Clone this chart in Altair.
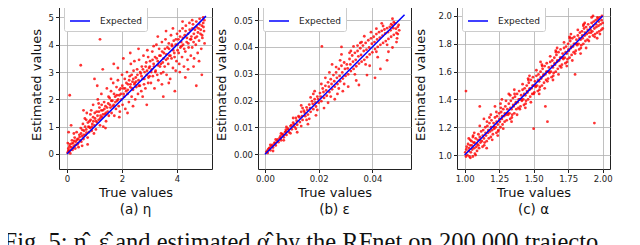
import altair as alt
import pandas as pd

# ---------------- data ----------------
# Panel (a): eta  (true, estimated)
eta_pts = [
    (0.02,0.05),(0.05,0.2),(0.08,0.1),(0.1,0.35),(0.12,0.02),(0.15,0.25),(0.18,0.5),(0.2,0.15),(0.22,0.4),(0.25,0.3),
    (0.28,0.6),(0.3,0.2),(0.32,0.45),(0.35,0.8),(0.38,0.35),(0.4,0.55),(0.42,0.25),(0.45,0.7),(0.48,0.5),(0.5,0.95),
    (0.06,0.8),(0.1,2.15),(0.15,1.05),(0.03,0.4),(0.25,0.75),
    (0.52,0.45),(0.55,0.65),(0.58,1.1),(0.6,0.55),(0.62,0.85),(0.65,1.3),(0.68,0.7),(0.7,0.9),(0.72,1.5),(0.75,0.6),
    (0.78,1.0),(0.8,0.8),(0.82,1.2),(0.85,0.95),(0.88,1.6),(0.9,0.85),(0.92,1.1),(0.95,1.35),(0.98,0.75),(1.0,1.05),
    (0.6,1.6),(0.7,1.25),(0.85,1.45),(0.95,1.8),(0.55,0.3),(0.75,0.35),(0.5,3.25),
    (1.02,1.3),(1.05,0.9),(1.08,1.55),(1.1,1.15),(1.12,2.0),(1.15,1.25),(1.18,1.7),(1.2,1.05),(1.22,1.4),(1.25,2.2),
    (1.28,1.35),(1.3,1.6),(1.32,1.0),(1.35,1.9),(1.38,1.45),(1.4,1.75),(1.42,1.2),(1.45,2.4),(1.48,1.55),(1.5,1.85),
    (1.2,4.2),(1.3,3.1),(1.1,2.5),(1.0,2.75),(1.4,0.95),(1.25,1.6),(1.15,1.85),
    (1.52,1.4),(1.55,2.05),(1.58,1.7),(1.6,2.3),(1.62,1.5),(1.65,1.95),(1.68,2.6),(1.7,1.8),(1.72,1.4),(1.75,2.1),
    (1.78,1.65),(1.8,2.45),(1.82,1.95),(1.85,2.7),(1.88,1.75),(1.9,2.15),(1.92,1.55),(1.95,2.4),(1.98,2.0),(2.0,2.9),
    (1.7,3.3),(1.85,3.15),(1.6,2.75),(1.9,1.35),
    (2.02,1.8),(2.05,2.4),(2.08,2.1),(2.1,2.75),(2.12,1.65),(2.15,2.3),(2.18,3.0),(2.2,2.2),(2.22,2.55),(2.25,1.9),
    (2.28,2.85),(2.3,2.45),(2.32,3.3),(2.35,2.1),(2.38,2.65),(2.4,2.35),(2.42,3.05),(2.45,2.55),(2.48,2.0),(2.5,2.8),
    (2.05,3.5),(2.3,3.7),(2.45,3.4),(2.2,1.5),(2.4,1.75),(2.5,4.6),(2.35,2.9),
    (2.52,2.45),(2.55,3.1),(2.58,2.2),(2.6,2.7),(2.62,3.45),(2.65,2.5),(2.68,2.95),(2.7,2.3),(2.72,3.2),(2.75,2.75),
    (2.78,3.6),(2.8,2.55),(2.82,3.0),(2.85,2.4),(2.88,3.35),(2.9,2.9),(2.92,3.8),(2.95,2.6),(2.98,3.15),(3.0,2.85),
    (2.9,1.8),(2.6,3.85),(2.75,2.1),(2.95,3.55),
    (3.02,3.4),(3.05,2.6),(3.08,3.1),(3.1,3.75),(3.12,2.85),(3.15,3.3),(3.18,2.4),(3.2,3.55),(3.22,3.05),(3.25,4.0),
    (3.28,2.9),(3.3,3.4),(3.32,2.7),(3.35,3.85),(3.38,3.2),(3.4,3.6),(3.42,2.95),(3.45,4.1),(3.48,3.35),(3.5,3.0),
    (3.5,2.1),(3.3,4.3),(3.15,3.95),(3.45,2.55),
    (3.52,3.7),(3.55,3.2),(3.58,4.2),(3.6,3.45),(3.62,2.9),(3.65,3.9),(3.68,3.3),(3.7,4.05),(3.72,3.6),(3.75,2.75),
    (3.78,4.35),(3.8,3.5),(3.82,3.95),(3.85,3.15),(3.88,4.15),(3.9,3.7),(3.92,2.3),(3.95,4.0),(3.98,3.4),(4.0,4.4),
    (3.6,4.5),(3.7,2.6),(3.85,4.6),(3.95,3.05),
    (4.02,3.8),(4.05,4.2),(4.08,3.3),(4.1,4.5),(4.12,3.9),(4.15,4.1),(4.18,3.55),(4.2,4.6),(4.22,4.0),(4.25,3.2),
    (4.28,4.35),(4.3,3.75),(4.32,4.7),(4.35,4.1),(4.38,3.45),(4.4,4.4),(4.42,3.9),(4.45,4.8),(4.48,4.2),(4.5,3.6),
    (4.3,2.8),(4.1,3.0),(4.4,3.1),(4.2,4.85),
    (4.52,4.3),(4.55,3.9),(4.58,4.75),(4.6,4.1),(4.62,3.5),(4.65,4.55),(4.68,4.0),(4.7,4.85),(4.72,4.3),(4.75,3.7),
    (4.78,4.6),(4.8,4.15),(4.82,4.95),(4.85,4.4),(4.88,3.85),(4.9,4.7),(4.92,4.25),(4.95,5.0),(4.98,4.5),(5.0,4.05),
    (4.7,2.5),(4.9,2.9),(4.6,3.2),(4.8,3.4),(4.95,4.8),(4.55,4.9),
    (0.05,0.12),(0.09,0.28),(0.13,0.15),(0.17,0.38),(0.21,0.22),(0.26,0.48),(0.31,0.33),(0.36,0.52),(0.41,0.4),(0.46,0.62),
    (0.51,0.75),(0.56,0.88),(0.61,0.7),(0.66,1.0),(0.71,0.78),(0.76,1.15),(0.81,0.98),(0.86,1.25),(0.91,1.0),(0.96,1.2),
    (1.01,1.5),(1.06,1.2),(1.11,1.4),(1.16,1.55),(1.21,1.3),(1.26,1.8),(1.31,1.45),(1.36,1.65),(1.41,1.5),(1.46,1.7),
    (1.51,2.1),(1.56,1.8),(1.61,1.95),(1.66,1.75),(1.71,2.2),(1.76,1.9),(1.81,2.15),(1.86,2.0),(1.91,2.35),(1.96,2.2),
    (2.01,2.5),(2.06,2.2),(2.11,2.4),(2.16,2.6),(2.21,2.35),(2.26,2.7),(2.31,2.55),(2.36,2.4),(2.41,2.75),(2.46,2.6),
    (2.51,2.65),(2.56,2.9),(2.61,2.5),(2.66,3.0),(2.71,2.85),(2.76,3.1),(2.81,2.75),(2.86,3.2),(2.91,3.05),(2.96,2.8),
    (3.01,3.2),(3.06,3.0),(3.11,3.45),(3.16,3.2),(3.21,3.0),(3.26,3.5),(3.31,3.25),(3.36,3.6),(3.41,3.3),(3.46,3.75),
    (3.51,3.5),(3.56,3.85),(3.61,3.65),(3.66,3.5),(3.71,3.85),(3.76,3.6),(3.81,4.0),(3.86,3.8),(3.91,3.55),(3.96,4.2),
    (4.01,4.0),(4.06,3.7),(4.11,4.3),(4.16,3.95),(4.21,4.25),(4.26,3.85),(4.31,4.5),(4.36,4.25),(4.41,4.05),(4.46,4.55),
    (4.51,4.2),(4.56,4.6),(4.61,4.4),(4.66,4.25),(4.71,4.65),(4.76,4.45),(4.81,4.75),(4.86,4.55),(4.91,4.35),(4.96,4.65),
    (4.99,4.9),
]

# Panel (b): epsilon
eps_pts = [
    (0.0005,0.0008),(0.001,0.0005),(0.0015,0.0022),(0.002,0.0015),(0.0025,0.003),(0.003,0.0025),(0.0035,0.0042),
    (0.004,0.0033),(0.0045,0.005),(0.005,0.0045),(0.0055,0.0062),(0.006,0.0052),(0.0065,0.0075),(0.007,0.0063),
    (0.0075,0.0082),(0.008,0.0072),(0.0085,0.0095),(0.009,0.0082),(0.0095,0.0105),(0.01,0.0093),(0.002,0.0035),
    (0.004,0.0055),(0.006,0.0078),(0.008,0.0102),(0.003,0.0012),(0.007,0.0052),(0.0095,0.0078),(0.0012,0.0018),
    (0.0058,0.0068),(0.0078,0.0092),
    (0.0105,0.0118),(0.011,0.0102),(0.0115,0.0135),(0.012,0.011),(0.0125,0.0142),(0.013,0.012),(0.0135,0.0158),
    (0.014,0.0128),(0.0145,0.0162),(0.015,0.0142),(0.0155,0.0175),(0.016,0.0148),(0.0165,0.0185),(0.017,0.0158),
    (0.0175,0.0198),(0.018,0.0168),(0.0185,0.0205),(0.019,0.0178),(0.0195,0.0215),(0.02,0.0192),(0.012,0.0082),
    (0.014,0.0172),(0.016,0.0112),(0.018,0.0225),(0.017,0.0212),(0.019,0.0145),(0.0135,0.0105),(0.0155,0.0128),
    (0.0205,0.0228),(0.021,0.0198),(0.0215,0.0245),(0.022,0.021),(0.0225,0.0255),(0.023,0.0218),(0.0235,0.0268),
    (0.024,0.0232),(0.0245,0.028),(0.025,0.0242),(0.0255,0.0295),(0.026,0.0252),(0.0265,0.0305),(0.027,0.0262),
    (0.0275,0.0318),(0.028,0.0272),(0.0285,0.033),(0.029,0.0282),(0.0295,0.0342),(0.03,0.0292),(0.022,0.0172),
    (0.024,0.0305),(0.026,0.0205),(0.028,0.035),(0.025,0.0335),(0.029,0.0235),(0.021,0.0262),(0.0235,0.0192),
    (0.0212,0.0402),(0.027,0.0225),(0.0285,0.0372),
    (0.0305,0.0335),(0.031,0.0298),(0.0315,0.0355),(0.032,0.031),(0.0325,0.0368),(0.033,0.0318),(0.0335,0.0378),
    (0.034,0.0328),(0.0345,0.0385),(0.035,0.0338),(0.0355,0.0395),(0.036,0.0345),(0.0365,0.0405),(0.037,0.0352),
    (0.0375,0.0415),(0.038,0.0362),(0.0385,0.0425),(0.039,0.0372),(0.0395,0.0432),(0.04,0.038),(0.032,0.0385),
    (0.034,0.0275),(0.036,0.0418),(0.038,0.0295),(0.033,0.0402),(0.037,0.044),(0.039,0.033),(0.035,0.0258),
    (0.031,0.0252),(0.0345,0.0405),(0.0285,0.04),
    (0.0405,0.0438),(0.041,0.0392),(0.0415,0.0448),(0.042,0.04),(0.0425,0.0455),(0.043,0.0408),(0.0435,0.046),
    (0.044,0.0415),(0.0445,0.0465),(0.045,0.0422),(0.0455,0.047),(0.046,0.043),(0.0465,0.0475),(0.047,0.0438),
    (0.0475,0.048),(0.048,0.0445),(0.0485,0.0488),(0.049,0.0452),(0.0495,0.0475),(0.05,0.0462),(0.042,0.0362),
    (0.044,0.0478),(0.046,0.0382),(0.048,0.0492),(0.041,0.0285),(0.043,0.0318),(0.0455,0.035),(0.0475,0.0398),
    (0.049,0.0418),(0.0415,0.0468),(0.0495,0.0448),(0.047,0.0485),
    (0.0008,0.0012),(0.0018,0.0025),(0.0028,0.0035),(0.0038,0.0042),(0.0048,0.0055),(0.0058,0.0058),(0.0068,0.0072),
    (0.0078,0.0085),(0.0088,0.0092),(0.0098,0.0108),(0.0108,0.0112),(0.0118,0.0125),(0.0128,0.0138),(0.0138,0.0142),
    (0.0148,0.0155),(0.0158,0.0165),(0.0168,0.0172),(0.0178,0.0188),(0.0188,0.0192),(0.0198,0.0205),(0.0208,0.0215),
    (0.0218,0.0232),(0.0228,0.0238),(0.0238,0.0252),(0.0248,0.0262),(0.0258,0.0272),(0.0268,0.0285),(0.0278,0.0292),
    (0.0288,0.0305),(0.0298,0.0318),(0.0308,0.032),(0.0318,0.0335),(0.0328,0.0345),(0.0338,0.0352),(0.0348,0.0365),
    (0.0358,0.037),(0.0368,0.0385),(0.0378,0.039),(0.0388,0.0398),(0.0398,0.0412),(0.0408,0.0418),(0.0418,0.0428),
    (0.0428,0.0435),(0.0438,0.0442),(0.0448,0.045),(0.0458,0.0455),(0.0468,0.0462),(0.0478,0.047),(0.0488,0.0468),
    (0.0498,0.0482),(0.0225,0.0285),(0.0245,0.0215),(0.0265,0.0325),(0.0275,0.0245),(0.0295,0.0262),(0.0315,0.0378),
    (0.0335,0.0298),(0.0355,0.0415),(0.0375,0.0335),(0.0395,0.0455),(0.0415,0.0382),(0.0435,0.0488),(0.0455,0.0408),
    (0.0475,0.0505),(0.0492,0.0432),(0.0135,0.0182),(0.0165,0.0132),(0.0185,0.0235),(0.0195,0.0165),(0.0105,0.0135),
    (0.0115,0.0095),
]

# Panel (c): alpha
alp_pts = [
    (1.005,1.02),(1.01,0.99),(1.015,1.06),(1.02,1.0),(1.025,1.08),(1.03,1.03),(1.035,0.99),(1.04,1.07),(1.045,1.02),
    (1.05,1.1),(1.055,1.04),(1.06,0.99),(1.065,1.09),(1.07,1.05),(1.075,1.01),(1.08,1.12),(1.085,1.06),(1.09,1.03),
    (1.095,1.11),(1.1,1.07),(1.01,1.46),(1.03,1.12),(1.06,1.13),(1.08,1.0),(1.1,1.15),(1.04,1.11),(1.07,1.16),
    (1.105,1.05),(1.11,1.13),(1.115,1.09),(1.12,1.17),(1.125,1.1),(1.13,1.06),(1.135,1.18),(1.14,1.12),(1.145,1.09),
    (1.15,1.2),(1.155,1.14),(1.16,1.1),(1.165,1.21),(1.17,1.16),(1.175,1.12),(1.18,1.23),(1.185,1.17),(1.19,1.13),
    (1.195,1.25),(1.2,1.18),(1.11,1.35),(1.14,1.26),(1.16,1.05),(1.18,1.27),(1.2,1.11),(1.11,1.21),(1.19,1.29),
    (1.205,1.15),(1.21,1.23),(1.215,1.19),(1.22,1.27),(1.225,1.2),(1.23,1.16),(1.235,1.28),(1.24,1.22),(1.245,1.18),
    (1.25,1.3),(1.255,1.24),(1.26,1.2),(1.265,1.31),(1.27,1.26),(1.275,1.22),(1.28,1.33),(1.285,1.28),(1.29,1.24),
    (1.295,1.35),(1.3,1.29),(1.22,1.35),(1.24,1.14),(1.26,1.37),(1.28,1.19),(1.3,1.39),(1.27,1.4),(1.23,1.31),
    (1.305,1.25),(1.31,1.33),(1.315,1.29),(1.32,1.37),(1.325,1.3),(1.33,1.26),(1.335,1.39),(1.34,1.33),(1.345,1.29),
    (1.35,1.41),(1.355,1.35),(1.36,1.3),(1.365,1.42),(1.37,1.37),(1.375,1.33),(1.38,1.44),(1.385,1.38),(1.39,1.34),
    (1.395,1.46),(1.4,1.4),(1.32,1.44),(1.34,1.24),(1.36,1.47),(1.38,1.29),(1.4,1.33),(1.33,1.43),
    (1.405,1.35),(1.41,1.43),(1.415,1.39),(1.42,1.47),(1.425,1.4),(1.43,1.36),(1.435,1.48),(1.44,1.43),(1.445,1.39),
    (1.45,1.5),(1.455,1.45),(1.46,1.4),(1.465,1.52),(1.47,1.47),(1.475,1.42),(1.48,1.54),(1.485,1.48),(1.49,1.44),
    (1.495,1.56),(1.5,1.5),(1.42,1.51),(1.44,1.34),(1.46,1.55),(1.48,1.38),(1.5,1.44),(1.47,1.57),(1.5,1.19),
    (1.505,1.45),(1.51,1.53),(1.515,1.49),(1.52,1.57),(1.525,1.5),(1.53,1.46),(1.535,1.58),(1.54,1.53),(1.545,1.49),
    (1.55,1.6),(1.555,1.55),(1.56,1.5),(1.565,1.62),(1.57,1.57),(1.575,1.52),(1.58,1.64),(1.585,1.58),(1.59,1.54),
    (1.595,1.66),(1.6,1.6),(1.52,1.61),(1.54,1.44),(1.56,1.65),(1.58,1.48),(1.6,1.53),(1.585,1.35),(1.6,1.24),(1.55,1.67),
    (1.605,1.55),(1.61,1.63),(1.615,1.59),(1.62,1.67),(1.625,1.6),(1.63,1.56),(1.635,1.68),(1.64,1.63),(1.645,1.59),
    (1.65,1.7),(1.655,1.65),(1.66,1.6),(1.665,1.72),(1.67,1.67),(1.675,1.62),(1.68,1.74),(1.685,1.68),(1.69,1.64),
    (1.695,1.76),(1.7,1.7),(1.62,1.71),(1.64,1.54),(1.66,1.75),(1.68,1.58),(1.7,1.63),(1.67,1.77),
    (1.705,1.65),(1.71,1.73),(1.715,1.69),(1.72,1.77),(1.725,1.7),(1.73,1.66),(1.735,1.78),(1.74,1.73),(1.745,1.69),
    (1.75,1.8),(1.755,1.75),(1.76,1.7),(1.765,1.82),(1.77,1.77),(1.775,1.72),(1.78,1.84),(1.785,1.78),(1.79,1.74),
    (1.795,1.85),(1.8,1.8),(1.72,1.81),(1.74,1.64),(1.76,1.85),(1.78,1.68),(1.8,1.58),(1.77,1.87),(1.8,1.73),
    (1.805,1.75),(1.81,1.83),(1.815,1.79),(1.82,1.86),(1.825,1.8),(1.83,1.76),(1.835,1.88),(1.84,1.83),(1.845,1.79),
    (1.85,1.89),(1.855,1.84),(1.86,1.8),(1.865,1.91),(1.87,1.86),(1.875,1.82),(1.88,1.92),(1.885,1.87),(1.89,1.83),
    (1.895,1.94),(1.9,1.88),(1.82,1.9),(1.84,1.73),(1.86,1.93),(1.88,1.77),(1.9,1.82),(1.87,1.95),
    (1.905,1.85),(1.91,1.92),(1.915,1.88),(1.92,1.95),(1.925,1.89),(1.93,1.86),(1.935,1.96),(1.94,1.91),(1.945,1.87),
    (1.95,1.97),(1.955,1.92),(1.96,1.88),(1.965,1.98),(1.97,1.93),(1.975,1.89),(1.98,1.99),(1.985,1.94),(1.99,1.9),
    (1.995,2.0),(2.0,1.95),(1.94,1.23),(1.92,1.99),(1.96,1.84),(1.98,1.87),(2.0,1.91),(1.93,2.0),
    (1.012,1.04),(1.032,1.05),(1.052,1.07),(1.072,1.09),(1.092,1.08),(1.112,1.11),(1.132,1.14),(1.152,1.16),
    (1.172,1.18),(1.192,1.2),(1.212,1.2),(1.232,1.24),(1.252,1.26),(1.272,1.28),(1.292,1.3),(1.312,1.3),
    (1.332,1.34),(1.352,1.36),(1.372,1.38),(1.392,1.4),(1.412,1.4),(1.432,1.44),(1.452,1.46),(1.472,1.48),
    (1.492,1.5),(1.512,1.5),(1.532,1.54),(1.552,1.56),(1.572,1.58),(1.592,1.6),(1.612,1.6),(1.632,1.64),
    (1.652,1.66),(1.672,1.68),(1.692,1.7),(1.712,1.7),(1.732,1.74),(1.752,1.76),(1.772,1.78),(1.792,1.8),
    (1.812,1.8),(1.832,1.84),(1.852,1.86),(1.872,1.88),(1.892,1.9),(1.912,1.9),(1.932,1.93),(1.952,1.94),
    (1.972,1.96),(1.992,1.97),(1.042,0.98),(1.142,1.07),(1.242,1.17),(1.342,1.27),(1.442,1.37),(1.542,1.47),
    (1.642,1.57),(1.742,1.67),(1.842,1.77),(1.942,1.85),(1.062,1.14),(1.162,1.24),(1.262,1.34),(1.362,1.44),
    (1.462,1.54),(1.562,1.64),(1.662,1.74),(1.762,1.84),(1.862,1.94),(1.962,1.99),
]

eta_line = [0.0, 5.05]
eps_line = [0.0, 0.052]
alp_line = [1.0, 2.0]

eta_xticks = [0, 2, 4]
eta_yticks = [0, 1, 2, 3, 4, 5]
eps_xticks = [0.0, 0.02, 0.04]
eps_yticks = [0.0, 0.01, 0.02, 0.03, 0.04, 0.05]
alp_xticks = [1.0, 1.25, 1.5, 1.75, 2.0]
alp_yticks = [1.0, 1.2, 1.4, 1.6, 1.8, 2.0]

subtitles = ["(a) η", "(b) ε", "(c) α"]
caption = "Fig. 5: \u03b7\u0302, \u03b5\u0302 and estimated \u03b1\u0302 by the RFnet on 200,000 trajectories"

W, H = 153, 169
FONT = "DejaVu Sans"


def panel(pts, line, xdom, ydom, xticks, yticks, xfmt, yfmt, sub, title_pad):
    df = pd.DataFrame(pts, columns=["t", "e"])
    dl = pd.DataFrame({"t": line, "e": line, "k": ["Expected"] * len(line)})
    xs = alt.Scale(domain=xdom, nice=False, zero=False)
    ys = alt.Scale(domain=ydom, nice=False, zero=False)
    xax = alt.Axis(values=xticks, format=xfmt, title="True values", grid=True, labelOverlap=False)
    yax = alt.Axis(values=yticks, format=yfmt, title="Estimated values", grid=True,
                   titlePadding=title_pad, labelOverlap=False)
    pts_layer = alt.Chart(df).mark_circle(size=8, color="#ff0000", opacity=0.8).encode(
        x=alt.X("t:Q", scale=xs, axis=xax),
        y=alt.Y("e:Q", scale=ys, axis=yax),
    )
    line_layer = alt.Chart(dl).mark_line(strokeWidth=1.5).encode(
        x=alt.X("t:Q", scale=xs, axis=xax),
        y=alt.Y("e:Q", scale=ys, axis=yax),
        color=alt.Color("k:N", scale=alt.Scale(domain=["Expected"], range=["#0000ff"]),
                        legend=alt.Legend(orient="top-left", title=None, symbolType="stroke",
                                          symbolSize=400, symbolStrokeWidth=1.5,
                                          strokeColor="#cccccc", fillColor="white",
                                          padding=5, cornerRadius=2, offset=5,
                                          labelFontSize=9, labelFont=FONT,
                                          labelColor="#222222", labelOffset=9)),
    )
    return alt.layer(pts_layer, line_layer).properties(
        width=W, height=H,
        title=alt.TitleParams(sub, orient="bottom", fontSize=13.5, fontWeight="normal",
                              font=FONT, color="#111111", offset=4),
    )


pa = panel(eta_pts, eta_line, [-0.29, 5.27], [-0.55, 5.64], eta_xticks, eta_yticks, "d", "d", subtitles[0], 5)
pb = panel(eps_pts, eps_line, [-0.0026, 0.0544], [-0.0055, 0.0575], eps_xticks, eps_yticks, ".2f", ".2f", subtitles[1], 5)
pc = panel(alp_pts, alp_line, [0.945, 2.053], [0.9, 2.115], alp_xticks, alp_yticks, ".2f", ".1f", subtitles[2], 10)

chart = alt.hconcat(pa, pb, pc, spacing=2).resolve_scale(color="independent").resolve_legend(
    color="independent"
).properties(
    padding={"left": -5, "top": -9, "right": 0, "bottom": 0},
    title=alt.TitleParams(caption, orient="bottom", anchor="start", font="Liberation Serif",
                          fontSize=24.5, fontWeight="normal", color="#111111", offset=14, dx=-26,
                          limit=626),
).configure(
    style={"group-title": {"ellipsis": ""}}
).configure_axis(
    labelFont=FONT, labelFontSize=8.5, labelColor="#222222",
    titleFont=FONT, titleFontSize=13, titleFontWeight="normal", titleColor="#111111",
    gridColor="#b0b0b0", gridWidth=0.8, domain=False,
    tickColor="#222222", tickSize=3.5, labelPadding=2,
).configure_axisX(titlePadding=3).configure_view(stroke="#222222", strokeWidth=1)

chart.save("out.html", embed_options={"renderer": "svg", "actions": False})
